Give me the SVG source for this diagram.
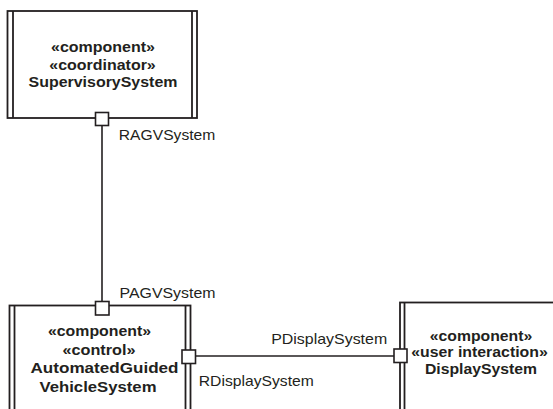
<svg xmlns="http://www.w3.org/2000/svg" width="553" height="409" viewBox="0 0 553 409">
<style>
.box{fill:#fff;stroke:#231f20;stroke-width:1.8}
.bar{stroke:#231f20;stroke-width:1.8;fill:none}
.port{fill:#fff;stroke:#231f20;stroke-width:1.6}
.conn{stroke:#231f20;stroke-width:1.6;fill:none}
.b{font-family:"Liberation Sans",Arial,sans-serif;font-weight:bold;font-size:15px;fill:#231f20;text-anchor:middle}
.l{font-family:"Liberation Sans",Arial,sans-serif;font-size:15px;fill:#231f20}
</style>
<rect width="553" height="409" fill="#fff"/>
<g id="connectors">
<line class="conn" x1="102" y1="125" x2="102" y2="301"/>
<line class="conn" x1="195" y1="356" x2="395" y2="356"/>
</g>
<g id="SupervisorySystem">
<rect class="box" x="7.5" y="11" width="189.5" height="107"/>
<line class="bar" x1="13" y1="11" x2="13" y2="118"/>
<line class="bar" x1="192" y1="11" x2="192" y2="118"/>
<text class="b" x="103" y="52" textLength="104" lengthAdjust="spacingAndGlyphs">«component»</text>
<text class="b" x="102.5" y="69.5" textLength="106.5" lengthAdjust="spacingAndGlyphs">«coordinator»</text>
<text class="b" x="103" y="87.3" textLength="149" lengthAdjust="spacingAndGlyphs">SupervisorySystem</text>
<rect class="port" x="95.5" y="112.5" width="13" height="13"/>
<text class="l" x="118.8" y="140" textLength="96.5" lengthAdjust="spacingAndGlyphs">RAGVSystem</text>
</g>
<g id="AutomatedGuidedVehicleSystem">
<rect class="box" x="9.5" y="305.5" width="181" height="120"/>
<line class="bar" x1="14.5" y1="305.5" x2="14.5" y2="425"/>
<line class="bar" x1="185.5" y1="305.5" x2="185.5" y2="425"/>
<text class="b" x="99.5" y="336" textLength="103" lengthAdjust="spacingAndGlyphs">«component»</text>
<text class="b" x="99" y="355" textLength="73" lengthAdjust="spacingAndGlyphs">«control»</text>
<text class="b" x="104.5" y="373.3" textLength="148" lengthAdjust="spacingAndGlyphs">AutomatedGuided</text>
<text class="b" x="98" y="391.7" textLength="117" lengthAdjust="spacingAndGlyphs">VehicleSystem</text>
<rect class="port" x="95.5" y="301.5" width="13.5" height="13.5"/>
<rect class="port" x="182" y="350" width="13.5" height="13.5"/>
<text class="l" x="119.5" y="297.7" textLength="96" lengthAdjust="spacingAndGlyphs">PAGVSystem</text>
<text class="l" x="198.8" y="386" textLength="115" lengthAdjust="spacingAndGlyphs">RDisplaySystem</text>
</g>
<g id="DisplaySystem">
<rect class="box" x="400" y="302.5" width="170" height="120"/>
<line class="bar" x1="404.5" y1="302.5" x2="404.5" y2="425"/>
<text class="b" x="481" y="340.5" textLength="102.5" lengthAdjust="spacingAndGlyphs">«component»</text>
<text class="b" x="479.5" y="357.3" textLength="136.5" lengthAdjust="spacingAndGlyphs">«user interaction»</text>
<text class="b" x="481" y="374" textLength="112" lengthAdjust="spacingAndGlyphs">DisplaySystem</text>
<rect class="port" x="394" y="349" width="13" height="13.5"/>
<text class="l" x="271.2" y="344" textLength="116" lengthAdjust="spacingAndGlyphs">PDisplaySystem</text>
</g>
</svg>
